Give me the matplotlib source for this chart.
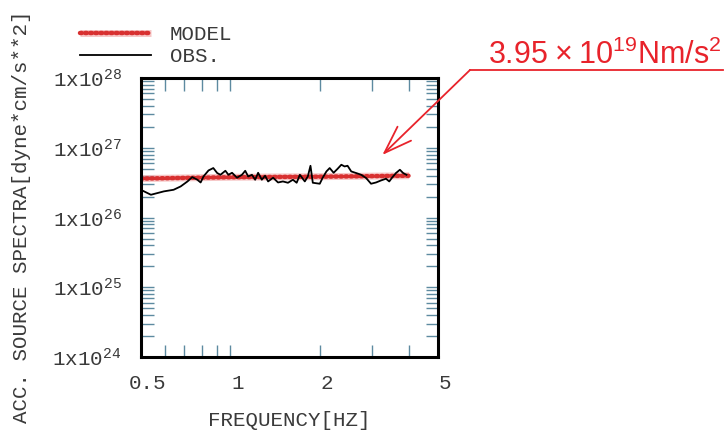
import math

import matplotlib
matplotlib.use("Agg")
import matplotlib.pyplot as plt
from matplotlib.lines import Line2D
from matplotlib.legend_handler import HandlerTuple
from matplotlib.ticker import LogLocator, FixedLocator, FuncFormatter, NullFormatter
from matplotlib.transforms import ScaledTranslation

obs_freq = [0.507, 0.540, 0.597, 0.644, 0.680, 0.717, 0.744, 0.774, 0.794, 0.812,
            0.844, 0.876, 0.903, 0.926, 0.962, 0.985, 1.013, 1.053, 1.094, 1.122,
            1.148, 1.182, 1.212, 1.240, 1.276, 1.309, 1.340, 1.393, 1.447, 1.503,
            1.563, 1.624, 1.672, 1.714, 1.781, 1.823, 1.861, 1.895, 2.000, 2.046,
            2.106, 2.160, 2.227, 2.297, 2.364, 2.425, 2.481, 2.553, 2.653, 2.757,
            2.865, 2.977, 3.094, 3.216, 3.342, 3.428, 3.516, 3.611, 3.723, 3.819,
            3.917]
obs_spec = [2.42e26, 2.12e26, 2.37e26, 2.50e26, 2.79e26, 3.29e26, 3.80e26, 3.48e26,
            3.18e26, 3.88e26, 4.73e26, 5.12e26, 4.34e26, 4.10e26, 4.68e26, 4.10e26,
            4.38e26, 3.72e26, 4.10e26, 4.68e26, 3.88e26, 4.10e26, 3.48e26, 4.38e26,
            3.48e26, 3.97e26, 3.29e26, 3.72e26, 3.18e26, 3.29e26, 3.15e26, 3.48e26,
            3.15e26, 4.10e26, 3.29e26, 3.88e26, 5.52e26, 3.15e26, 3.05e26, 3.72e26,
            4.58e26, 5.12e26, 4.38e26, 5.00e26, 5.71e26, 5.40e26, 5.52e26, 4.58e26,
            4.34e26, 4.10e26, 3.68e26, 3.05e26, 3.18e26, 3.40e26, 3.60e26, 3.29e26,
            3.80e26, 4.34e26, 4.84e26, 4.34e26, 4.10e26]

# model spectrum
model_freq = [0.5, 1.0, 2.0, 4.0]
model_spec = [3.62e26, 3.78e26, 3.85e26, 3.97e26]

xtick_vals = [0.5, 0.6, 0.7, 0.8, 0.9, 1, 2, 3, 4, 5]
xtick_text = ["0.5", "", "", "", "", "1", "2", "", "", "5"]
annot_text = r"$\mathsf{3.95\,\times\,10^{19}Nm/s^{2}}$"

MONO = "Liberation Mono"
TXT = "#3a3a3a"
TICK = "#5d8aa0"
RED = "#e8232b"

plt.rcParams["mathtext.fontset"] = "custom"
plt.rcParams["mathtext.rm"] = MONO
plt.rcParams["mathtext.it"] = MONO
plt.rcParams["mathtext.sf"] = "Liberation Sans"

fig = plt.figure(figsize=(7.26, 4.33), dpi=100)
ax = fig.add_axes([0.1942, 0.1755, 0.409, 0.6443])

ax.set_xscale("log")
ax.set_yscale("log")
ax.set_xlim(0.5, 5)
ax.set_ylim(1e24, 1e28)

# model: pale band + red dots
band, = ax.plot(model_freq, model_spec, color="#f0a0a0", lw=5, alpha=0.6,
                solid_capstyle="butt")
dots, = ax.plot(model_freq, model_spec, color="#d83030", lw=3.2,
                linestyle=(0, (0.4, 0.75)), dash_capstyle="round")
obs, = ax.plot(obs_freq, obs_spec, color="black", lw=1.3)

for s in ax.spines.values():
    s.set_linewidth(2.2)
    s.set_color("black")

ax.set_xticks(xtick_vals)
ax.set_xticklabels(xtick_text)
ax.xaxis.set_minor_locator(FixedLocator([]))

ax.yaxis.set_major_locator(LogLocator(base=10, numticks=10))
ax.yaxis.set_minor_locator(LogLocator(base=10, subs=range(2, 10), numticks=10))
ax.yaxis.set_major_formatter(
    FuncFormatter(lambda v, p: "1x10$^{%d}$" % round(math.log10(v))))
ax.yaxis.set_minor_formatter(NullFormatter())

ax.tick_params(axis="both", which="both", direction="in", top=True, right=True,
               color=TICK, width=1.0, length=9, labelcolor=TXT, labelsize=15)
ax.tick_params(axis="x", pad=12)
ax.tick_params(axis="y", pad=14)
for lab in ax.get_xticklabels() + ax.get_yticklabels():
    lab.set_fontfamily(MONO)
for lab in ax.get_xticklabels():
    lab.set_transform(lab.get_transform() + ScaledTranslation(7 / 100, 0, fig.dpi_scale_trans))

ax.set_xlabel("FREQUENCY[HZ]", family=MONO, fontsize=15, color=TXT, labelpad=13)
fig.text(0.03, 0.5, "ACC. SOURCE SPECTRA[dyne*cm/s**2]", rotation=90,
         family=MONO, fontsize=15, color=TXT, ha="center", va="center")

fig.legend([(band, dots), obs], ["MODEL", "OBS."],
           handler_map={tuple: HandlerTuple(ndivide=1)},
           loc="upper left", bbox_to_anchor=(0.085, 0.985), frameon=False,
           prop={"family": MONO, "size": 15}, handlelength=3.4,
           handletextpad=0.9, labelspacing=0.15, labelcolor=TXT)

# red annotation
ax.annotate("", xy=(3.25, 7.9e26), xycoords="data",
            xytext=(470 / 726, 1 - 70 / 433), textcoords="figure fraction",
            arrowprops=dict(arrowstyle="->,head_length=1.0,head_width=0.35",
                            color=RED, lw=1.3, mutation_scale=20,
                            shrinkA=0, shrinkB=0))
fig.add_artist(Line2D([470 / 726, 723 / 726], [1 - 70 / 433, 1 - 70 / 433],
                      transform=fig.transFigure, color=RED, lw=1.3))
fig.text(722 / 726, 1 - 64 / 433, annot_text, color=RED, fontsize=22,
         ha="right", va="baseline")

fig.savefig("out.png", dpi=100)
